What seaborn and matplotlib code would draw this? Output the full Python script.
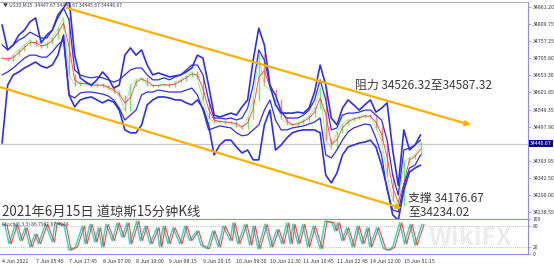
import numpy as np
import pandas as pd
import matplotlib
matplotlib.use("Agg")
import matplotlib.pyplot as plt
import matplotlib.transforms as mtransforms
import seaborn as sns

# ---------------- data ----------------
# 15-minute bar index of each sample (every 8 bars = 2 hours)
bars = list(range(0, 608, 8))

close = [34706, 34700, 34715, 34731, 34746, 34761, 34746, 34740, 34752, 34767, 34797, 34828,
         34655, 34624, 34633, 34627, 34621, 34627, 34621, 34615, 34603, 34591, 34548, 34624, 34640,
         34646, 34624, 34621, 34624, 34627, 34621, 34633, 34640, 34652, 34664, 34646, 34579,
         34524, 34512, 34515, 34509, 34512, 34500, 34494, 34524, 34579, 34715, 34624, 34609,
         34579, 34524, 34506, 34503, 34509, 34518, 34530, 34554, 34615, 34457, 34433, 34482,
         34506, 34518, 34524, 34527, 34533, 34527, 34494, 34457, 34351, 34275, 34260, 34391,
         34403, 34412, 34447]

upper_outer = [34807, 34731, 34746, 34776, 34791, 34816, 34828, 34752, 34776, 34791, 34837, 34858,
               34885, 34715, 34646, 34633, 34624, 34640, 34664, 34646, 34615, 34624, 34715, 34737, 34715,
               34731, 34685, 34655, 34661, 34655, 34649, 34652, 34655, 34664, 34676, 34715, 34706,
               34624, 34533, 34527, 34533, 34539, 34533, 34558, 34579, 34700, 34797, 34746, 34624,
               34564, 34539, 34539, 34539, 34542, 34539, 34554, 34603, 34685, 34624, 34524, 34503,
               34554, 34579, 34564, 34548, 34564, 34579, 34542, 34554, 34570, 34427, 34320, 34488,
               34427, 34442, 34473]

lower_outer = [34448, 34624, 34655, 34664, 34676, 34685, 34694, 34682, 34676, 34685, 34715, 34776,
               34594, 34558, 34579, 34585, 34588, 34579, 34570, 34579, 34573, 34548, 34488, 34479, 34479,
               34503, 34564, 34579, 34588, 34588, 34585, 34579, 34579, 34570, 34564, 34579, 34554,
               34503, 34412, 34442, 34457, 34457, 34436, 34418, 34427, 34397, 34397, 34503, 34548,
               34427, 34442, 34463, 34479, 34485, 34488, 34488, 34488, 34479, 34351, 34327, 34357,
               34412, 34436, 34442, 34448, 34451, 34457, 34436, 34381, 34312, 34230, 34214, 34305,
               34360, 34372, 34381]

upper_inner = [34746, 34731, 34746, 34761, 34770, 34785, 34776, 34767, 34767, 34791, 34828, 34858,
               34822, 34670, 34655, 34649, 34646, 34649, 34646, 34640, 34633, 34640, 34655, 34670, 34676,
               34676, 34655, 34640, 34640, 34646, 34640, 34649, 34655, 34670, 34685, 34685, 34655,
               34579, 34524, 34524, 34521, 34524, 34518, 34524, 34554, 34624, 34731, 34700, 34624,
               34594, 34542, 34524, 34524, 34524, 34533, 34548, 34579, 34640, 34579, 34488, 34494,
               34533, 34539, 34539, 34542, 34548, 34548, 34533, 34518, 34457, 34351, 34290, 34427,
               34433, 34442, 34457]

lower_inner = [34655, 34664, 34676, 34691, 34706, 34715, 34715, 34709, 34709, 34725, 34746, 34761,
               34594, 34585, 34600, 34603, 34603, 34600, 34597, 34591, 34579, 34554, 34518, 34533, 34548,
               34594, 34603, 34603, 34609, 34606, 34603, 34603, 34603, 34609, 34615, 34594, 34548,
               34488, 34494, 34500, 34497, 34494, 34479, 34470, 34473, 34488, 34503, 34548, 34579,
               34518, 34488, 34488, 34494, 34497, 34500, 34506, 34512, 34524, 34412, 34403, 34427,
               34457, 34482, 34494, 34500, 34506, 34503, 34463, 34412, 34305, 34245, 34239, 34320,
               34372, 34381, 34412]

time_ticks = [0, 48, 96, 144, 192, 240, 288, 336, 384, 432, 480, 528, 576]
time_labels = ["4 Jun 2021", "7 Jun 05:45", "7 Jun 17:45", "8 Jun 07:00", "8 Jun 19:00",
               "9 Jun 08:15", "9 Jun 20:15", "10 Jun 09:30", "10 Jun 21:30", "11 Jun 10:45",
               "11 Jun 22:45", "14 Jun 12:00", "15 Jun 01:15"]

price_ticks = [34861.20, 34809.75, 34757.25, 34705.80, 34653.30, 34601.85, 34549.35,
               34497.90, 34393.95, 34342.50, 34290.00, 34238.55]
last_price = 34446.67

resist_line = {"bar": [93, 672], "price": [34858, 34503]}
support_line = {"bar": [-3, 573], "price": [34618, 34250]}

stoch_bars = [0, 4, 10, 19, 26, 33, 40, 47, 52, 62, 72, 76, 83, 89, 96, 105, 115, 119, 126, 133,
              138, 143, 149, 158, 165, 172, 179, 183, 193, 198, 205, 212, 222, 226, 231, 238, 245,
              255, 262, 269, 279, 285, 294, 302, 310, 317, 327, 331, 338, 348, 355, 360, 367, 377,
              385, 394, 401, 408, 413, 417, 424, 431, 438, 446, 456, 463, 473, 477, 481, 487, 494,
              502, 509, 516, 523, 527, 537, 547, 553, 560, 570, 577, 585, 592, 602]
stoch_k = [85, 82, 29, 85, 38, 75, 20, 57, 29, 85, 34, 89, 85, 80, 11, 20, 80, 29, 85, 34,
           75, 20, 85, 38, 89, 48, 89, 29, 94, 38, 80, 29, 75, 20, 80, 29, 75,
           29, 80, 38, 66, 25, 15, 66, 20, 80, 38, 89, 29, 85, 25, 80, 15, 85,
           20, 70, 29, 89, 29, 85, 29, 85, 20, 80, 15, 94, 89, 66, 89, 38, 75,
           20, 80, 29, 75, 20, 75, 15, 11, 20, 89, 29, 85, 25, 85]
stoch_levels = [80, 20]

# ---------------- style ----------------
sns.set_style("white")
plt.rcParams['font.family'] = ['Noto Sans CJK SC', 'DejaVu Sans']

W, H = 554, 265
fig = plt.figure(figsize=(W / 100, H / 100), dpi=100)
ax = fig.add_axes([0, 1 - 219 / H, 528 / W, 217 / H])
ax2 = fig.add_axes([0, 1 - 254 / H, 528 / W, 35 / H])

blue = "#2f2fe6"
orange = "#ffb000"
frame = "#8c8ce0"

df = pd.DataFrame({"bar": bars, "close": close, "uo": upper_outer, "lo": lower_outer,
                   "ui": upper_inner, "li": lower_inner})

# current price line
ax.axhline(last_price, color="#c9c9c9", lw=0.9, zorder=1)

# candles (open = previous close)
opens = [close[0]] + close[:-1]
lo = np.minimum(opens, close)
hi = np.maximum(opens, close)
cols = ["#6ee86e" if c >= o else "#ff8080" for o, c in zip(opens, close)]
ax.vlines(df["bar"], lo - 3, hi + 3, colors=cols, lw=1.0, zorder=2)
sns.lineplot(data=df, x="bar", y="close", ax=ax, color="#8eea8e", lw=0.6, zorder=2)
ma = df["close"].rolling(2, min_periods=1).mean()
sns.lineplot(x=df["bar"], y=ma, ax=ax, color="#ff3a3a", lw=0.6, zorder=3)

for col, lw in [("uo", 1.2), ("lo", 1.2), ("ui", 0.9), ("li", 0.9)]:
    sns.lineplot(data=df, x="bar", y=col, ax=ax, color=blue, lw=lw, zorder=4)

# channel lines with arrows
for ln in (resist_line, support_line):
    ax.annotate("", xy=(ln["bar"][1], ln["price"][1]), xytext=(ln["bar"][0], ln["price"][0]),
                arrowprops=dict(arrowstyle="-|>", color=orange, lw=1.6, mutation_scale=7,
                                shrinkA=0, shrinkB=0), zorder=5)

ax.set_xlim(-3, 754)
ax.set_ylim(34217.4, 34876.4)
ax.set_xlabel("")
ax.set_ylabel("")
ax.set_xticks([])
ax.yaxis.tick_right()
ax.set_yticks(price_ticks)
ax.set_yticklabels([f"{p:.2f}" for p in price_ticks])
ax.tick_params(axis="y", labelsize=3.8, colors="#333333", length=2, width=0.5, pad=1.5,
               color=frame)
ax.spines["left"].set_visible(False)
ax.spines["right"].set_color(frame)
ax.spines["bottom"].set_color(frame)
ax.spines["top"].set_color("#b0b0b0")
for s in ax.spines.values():
    s.set_linewidth(0.8)

trans = mtransforms.blended_transform_factory(ax.transAxes, ax.transData)
ax.text(1.004, last_price, f"{last_price:.2f}", transform=trans, fontsize=3.8, color="white",
        va="center", ha="left",
        bbox=dict(boxstyle="square,pad=0.15", fc="#0a0a80", ec="none"))

# annotations
txt_color = "#3a3a3a"
ax.text(506, 34624, "阻力 34526.32至34587.32", fontsize=8.6, color=txt_color, va="center",
        ha="left", zorder=6)
ax.text(582, 34281, "支撑 34176.67", fontsize=8.6, color=txt_color, va="center", ha="left", zorder=6)
ax.text(582, 34239, "至34234.02", fontsize=8.6, color=txt_color, va="center", ha="left", zorder=6)
fig.text(2 / W, 1 - 212 / H, "2021年6月15日 道琼斯15分钟K线", fontsize=9.6, color=txt_color,
         va="center", ha="left")
fig.text(3 / W, 1 - 5 / H, "▼ US30,M15  34447.67 34448.67 34445.67 34446.67", fontsize=3.6,
         color="#404060", va="center", ha="left")

# ---------------- stochastic ----------------
sdf = pd.DataFrame({"bar": stoch_bars, "k": stoch_k})
ax2.text(0.89, 0.45, "WikiFX", transform=ax2.transAxes, fontsize=18, color="#ececec",
         va="center", ha="center", fontweight="bold", zorder=0)
for lvl in stoch_levels:
    ax2.axhline(lvl, color="#a8a8a8", lw=0.6, ls=(0, (1, 1.5)))
sns.lineplot(data=sdf, x="bar", y="k", ax=ax2, color="#3cd6c8", lw=1.1)
sns.lineplot(x=sdf["bar"] + 3, y=sdf["k"], ax=ax2, color="#f04848", lw=0.8)
ax2.text(0.004, 0.93, "Stoch(5,3,3) 86.7981 87.4944", transform=ax2.transAxes, fontsize=3.6,
         color="#404060", va="top", ha="left")
ax2.set_xlim(-3, 754)
ax2.set_ylim(0, 100)
ax2.set_xlabel("")
ax2.set_ylabel("")
ax2.yaxis.tick_right()
ax2.set_yticks([100, 80, 20, 0])
ax2.set_yticklabels(["100", "80", "20", "0"])
ax2.tick_params(axis="y", labelsize=3.6, colors="#333333", length=2, width=0.5, pad=1.5,
                color=frame)
ax2.set_xticks(time_ticks)
ax2.set_xticklabels(time_labels, ha="left")
ax2.tick_params(axis="x", labelsize=3.8, colors="#333333", length=2, width=0.5, pad=1.5,
                color=frame)
ax2.spines["left"].set_visible(False)
for s in ["right", "bottom", "top"]:
    ax2.spines[s].set_color(frame)
    ax2.spines[s].set_linewidth(0.8)

fig.savefig("out.png", dpi=100)
